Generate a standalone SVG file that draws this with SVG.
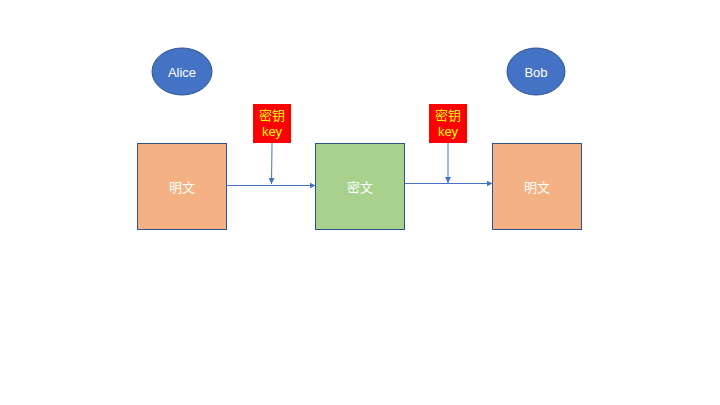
<svg xmlns="http://www.w3.org/2000/svg" width="720" height="405" viewBox="0 0 720 405">
<defs>
<style>
.box{stroke:#2F528F;stroke-width:1}
.t{font-family:"Liberation Sans","Noto Sans CJK SC",sans-serif;font-size:13px;fill:#FFFFFF;text-anchor:middle;dominant-baseline:central}
.k{font-family:"Liberation Sans","Noto Sans CJK SC",sans-serif;font-size:13px;fill:#FFFF00;text-anchor:middle}
.c{stroke:#4472C4;stroke-width:1;fill:none;marker-end:url(#ah)}
</style>
<marker id="ah" viewBox="0 0 10 10" refX="10" refY="5" markerWidth="6" markerHeight="6" orient="auto" markerUnits="userSpaceOnUse">
<path d="M0,0 L10,5 L0,10 z" fill="#4472C4"/>
</marker>
</defs>
<rect width="720" height="405" fill="#FFFFFF"/>
<g id="alice">
<ellipse cx="182" cy="71.5" rx="30" ry="23.5" fill="#4472C4" class="box"/>
<text x="182" y="72" class="t">Alice</text>
</g>
<g id="bob">
<ellipse cx="536" cy="71.5" rx="29" ry="23.5" fill="#4472C4" class="box"/>
<text x="536" y="72" class="t">Bob</text>
</g>
<g id="plain1">
<rect x="137.5" y="143.5" width="89" height="86" fill="#F4B183" class="box"/>
<text x="182" y="187" class="t">明文</text>
</g>
<g id="cipher">
<rect x="315.5" y="143.5" width="89" height="86" fill="#A9D18E" class="box"/>
<text x="360" y="187" class="t">密文</text>
</g>
<g id="plain2">
<rect x="492.5" y="143.5" width="89" height="86" fill="#F4B183" class="box"/>
<text x="537" y="187" class="t">明文</text>
</g>
<g id="key1">
<rect x="253" y="104" width="38" height="39" fill="#FF0000"/>
<text x="272" y="120" class="k">密钥</text>
<text x="272" y="136" class="k">key</text>
</g>
<g id="key2">
<rect x="429" y="104" width="38" height="39" fill="#FF0000"/>
<text x="448" y="120" class="k">密钥</text>
<text x="448" y="136" class="k">key</text>
</g>
<g id="connectors">
<line x1="226.5" y1="185.5" x2="315.5" y2="185.5" class="c"/>
<line x1="272" y1="143" x2="271.5" y2="184" class="c"/>
<line x1="404.5" y1="183.5" x2="492.5" y2="183.5" class="c"/>
<line x1="448" y1="143" x2="448" y2="183" class="c"/>
</g>
</svg>
